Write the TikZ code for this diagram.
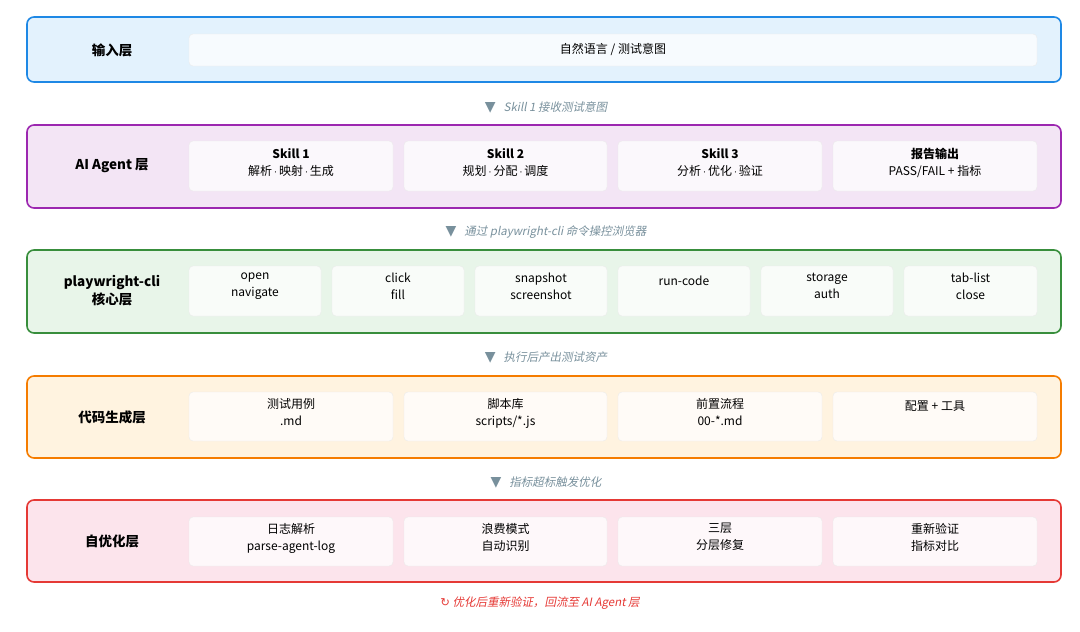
\documentclass[tikz,border=0pt]{standalone}
\usepackage{fontspec}
\setmainfont{Noto Sans CJK SC}
\newfontfamily\slantfont[FakeSlant=0.2]{Noto Sans CJK SC}
\newfontfamily\symfont{DejaVu Sans}
\usetikzlibrary{positioning}

\definecolor{inBorder}{HTML}{1E88E5}
\definecolor{inFill}{HTML}{E3F2FD}
\definecolor{agBorder}{HTML}{9C27B0}
\definecolor{agFill}{HTML}{F3E5F5}
\definecolor{pwBorder}{HTML}{388E3C}
\definecolor{pwFill}{HTML}{E8F5E9}
\definecolor{cgBorder}{HTML}{F57C00}
\definecolor{cgFill}{HTML}{FFF3E0}
\definecolor{soBorder}{HTML}{E53935}
\definecolor{soFill}{HTML}{FCE4EC}
\definecolor{flowGray}{HTML}{78909C}

\newcommand{\md}{\,{\symfont\fontsize{9}{9}\selectfont·}\,}

\tikzset{
    layer/.style={draw=#1, line width=1.6pt, rounded corners=7pt},
    cell/.style={draw=black!8, fill=white, fill opacity=0.75, draw opacity=1, rounded corners=4pt},
    celltext/.style={anchor=north, align=center, font=\fontsize{12}{17}\selectfont, inner sep=0pt,
                     execute at begin node=\strut},
    layername/.style={align=center, font=\fontsize{13.5}{18}\selectfont\bfseries},
    flow/.style={font=\fontsize{11.5}{14}\selectfont\slantfont, text=flowGray}
}

\begin{document}
\begin{tikzpicture}[x=1pt, y=-1pt]

    \useasboundingbox (0,0) rectangle (1080,632);

    % layers
    \draw[layer=inBorder, fill=inFill] (27,17) rectangle (1061,82);
    \draw[layer=agBorder, fill=agFill] (27,125) rectangle (1061,208);
    \draw[layer=pwBorder, fill=pwFill] (27,250) rectangle (1061,333);
    \draw[layer=cgBorder, fill=cgFill] (27,376) rectangle (1061,458);
    \draw[layer=soBorder, fill=soFill] (27,500) rectangle (1061,582);

    \node[layername] (inName) at (112,50) {输入层};
    \node[layername] (agName) at (112,166) {AI Agent 层};
    \node[layername] (pwName) at (112,291) {playwright-cli\\核心层};
    \node[layername] (cgName) at (112,417) {代码生成层};
    \node[layername] (soName) at (112,541) {自优化层};

    % input
    \draw[cell] (189,34) rectangle (1037,66);
    \node[celltext, anchor=center] (inText) at (613,50) {自然语言 / 测试意图};

    % agent
    \foreach \xa/\xb/\name/\txt in {189/393/sk1/{\textbf{Skill 1}\\解析\md 映射\md 生成},
                                   404/607/sk2/{\textbf{Skill 2}\\规划\md 分配\md 调度},
                                   618/822/sk3/{\textbf{Skill 3}\\分析\md 优化\md 验证},
                                   833/1037/rep/{\textbf{报告输出}\\PASS/FAIL + 指标}}{
        \draw[cell] (\xa,141) rectangle (\xb,191);
        \node[celltext] (\name) at ({(\xa+\xb)/2},148) {\txt};
    }

    % playwright-cli
    \foreach \xa/\xb/\name/\txt in {189/321/cOpen/{open\\navigate},
                                   332/464/cClick/{click\\fill},
                                   475/607/cSnap/{snapshot\\screenshot},
                                   618/750/cRun/{run-code},
                                   761/893/cStore/{storage\\auth},
                                   904/1037/cTab/{tab-list\\close}}{
        \draw[cell] (\xa,266) rectangle (\xb,316);
        \node[celltext] (\name) at ({(\xa+\xb)/2},273) {\txt};
    }

    % code generation
    \foreach \xa/\xb/\name/\txt in {189/393/gCase/{测试用例\\.md},
                                   404/607/gLib/{脚本库\\scripts/*.js},
                                   618/822/gPre/{前置流程\\00-*.md},
                                   833/1037/gConf/{配置 + 工具}}{
        \draw[cell] (\xa,392) rectangle (\xb,441);
        \node[celltext] (\name) at ({(\xa+\xb)/2},398) {\txt};
    }

    % self optimisation
    \foreach \xa/\xb/\name/\txt in {189/393/oLog/{日志解析\\parse-agent-log},
                                   404/607/oWaste/{浪费模式\\自动识别},
                                   618/822/oFix/{三层\\分层修复},
                                   833/1037/oCheck/{重新验证\\指标对比}}{
        \draw[cell] (\xa,517) rectangle (\xb,566);
        \node[celltext] (\name) at ({(\xa+\xb)/2},523) {\txt};
    }

    % flow labels
    \node[flow] (f1) at (546,107) {{\upshape\symfont\fontsize{14}{14}\selectfont ▼}\hspace{8pt}Skill 1 接收测试意图};
    \node[flow] (f2) at (546,232) {{\upshape\symfont\fontsize{14}{14}\selectfont ▼}\hspace{8pt}通过 playwright-cli 命令操控浏览器};
    \node[flow] (f3) at (546,358) {{\upshape\symfont\fontsize{14}{14}\selectfont ▼}\hspace{8pt}执行后产出测试资产};
    \node[flow] (f4) at (546,483) {{\upshape\symfont\fontsize{14}{14}\selectfont ▼}\hspace{8pt}指标超标触发优化};
    \node[flow, text=soBorder] (back) at (540,603) {{\symfont ↻} 优化后重新验证，回流至 AI Agent 层};

\end{tikzpicture}
\end{document}
